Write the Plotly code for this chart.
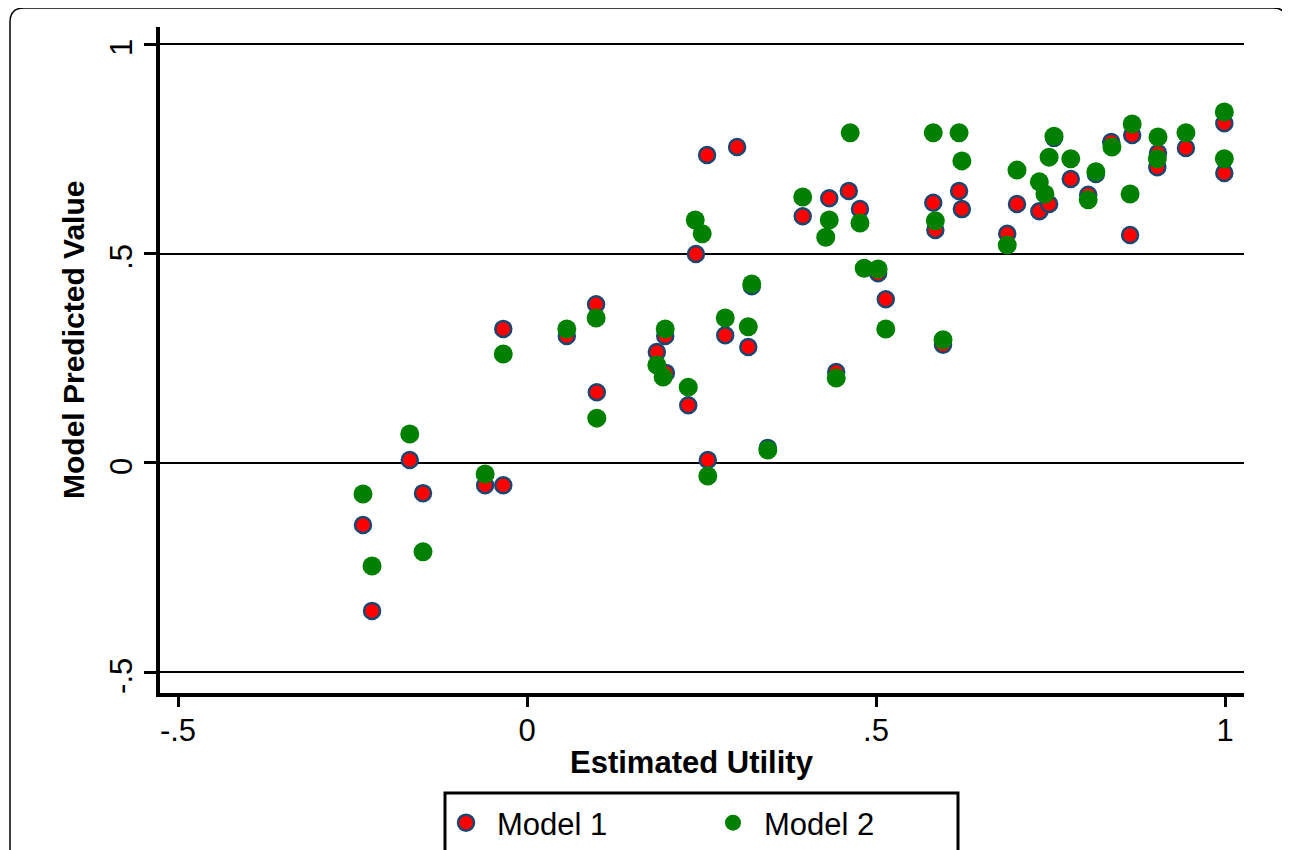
import plotly.graph_objects as go

# Estimated utility (x) and model predicted values (y)
model1_x = [-0.235, -0.222, -0.168, -0.149, -0.060, -0.034, -0.034, 0.057, 0.099, 0.100,
            0.186, 0.198, 0.199, 0.231, 0.242, 0.258, 0.259, 0.284, 0.301, 0.317,
            0.322, 0.345, 0.395, 0.433, 0.443, 0.461, 0.477, 0.503, 0.514, 0.582,
            0.585, 0.596, 0.619, 0.623, 0.688, 0.702, 0.734, 0.748, 0.755, 0.779,
            0.804, 0.815, 0.837, 0.867, 0.864, 0.904, 0.903, 0.944, 0.999, 0.999]
model1_y = [-0.148, -0.353, 0.007, -0.072, -0.053, -0.053, 0.320, 0.303, 0.379, 0.169,
            0.265, 0.303, 0.215, 0.138, 0.499, 0.735, 0.007, 0.305, 0.754, 0.277,
            0.422, 0.036, 0.589, 0.632, 0.217, 0.649, 0.606, 0.453, 0.391, 0.621,
            0.556, 0.282, 0.649, 0.606, 0.547, 0.618, 0.601, 0.618, 0.776, 0.678,
            0.640, 0.690, 0.766, 0.783, 0.544, 0.740, 0.706, 0.752, 0.811, 0.692]

model2_x = [-0.235, -0.222, -0.168, -0.149, -0.060, -0.034, 0.057, 0.099, 0.100, 0.186,
            0.195, 0.198, 0.231, 0.241, 0.251, 0.259, 0.284, 0.317, 0.322, 0.345,
            0.395, 0.428, 0.433, 0.443, 0.463, 0.477, 0.483, 0.503, 0.514, 0.582,
            0.585, 0.596, 0.619, 0.623, 0.688, 0.702, 0.734, 0.742, 0.748, 0.755,
            0.779, 0.804, 0.815, 0.838, 0.867, 0.864, 0.904, 0.903, 0.944, 0.999, 0.999]
model2_y = [-0.074, -0.246, 0.069, -0.212, -0.026, 0.260, 0.320, 0.346, 0.107, 0.234,
            0.205, 0.320, 0.181, 0.580, 0.547, -0.031, 0.346, 0.325, 0.427, 0.031,
            0.635, 0.539, 0.580, 0.203, 0.788, 0.573, 0.465, 0.463, 0.320, 0.788,
            0.578, 0.294, 0.788, 0.721, 0.520, 0.699, 0.671, 0.642, 0.730, 0.780,
            0.726, 0.628, 0.695, 0.754, 0.809, 0.642, 0.778, 0.726, 0.788, 0.838, 0.726]

tick_vals = [-0.5, 0, 0.5, 1]
tick_text = ["-.5", "0", ".5", "1"]
x_title = "Estimated Utility"
y_title = "Model Predicted Value"

OFF = 8  # page body margin
W, H = 1290 - OFF, 850 - OFF
L, T = 160 - OFF, 27 - OFF
R = W - (1244 - OFF)
B = H - (693 - OFF)
PW, PH = W - L - R, H - T - B


def px(x):
    """screen x (reference pixels) -> paper coordinate"""
    return (x - OFF - L) / PW


def py(y):
    """screen y (reference pixels) -> paper coordinate"""
    return (H - B - (y - OFF)) / PH


FONT = "Liberation Sans, Arial, sans-serif"

fig = go.Figure()
fig.add_trace(go.Scatter(
    x=model1_x, y=model1_y, mode="markers", name="Model 1",
    marker=dict(size=16, color="#ff0000", line=dict(color="#1a476f", width=2.5)),
))
fig.add_trace(go.Scatter(
    x=model2_x, y=model2_y, mode="markers", name="Model 2",
    marker=dict(size=19, color="#008000", line=dict(width=0)),
))

# outer rounded frame
r = 14
x0, x1, y0, y1 = 10, 1287, 8, 870
frame = (f"M {px(x0)},{py(y1)} L {px(x0)},{py(y0 + r)} Q {px(x0)},{py(y0)} {px(x0 + r)},{py(y0)} "
         f"L {px(x1 - r)},{py(y0)} Q {px(x1)},{py(y0)} {px(x1)},{py(y0 + r)} L {px(x1)},{py(y1)}")
fig.add_shape(type="path", path=frame, xref="paper", yref="paper",
              line=dict(color="black", width=1.5))
# legend box
fig.add_shape(type="rect", xref="paper", yref="paper",
              x0=px(445), x1=px(958), y0=py(890), y1=py(793),
              line=dict(color="black", width=3), fillcolor="white")

# axis titles
fig.add_annotation(text=f"<b>{x_title}</b>", xref="paper", yref="paper",
                   x=px(692), y=py(762), xanchor="center", yanchor="middle",
                   showarrow=False, font=dict(size=31))
fig.add_annotation(text=f"<b>{y_title}</b>", xref="paper", yref="paper",
                   x=px(73), y=py(340), xanchor="center", yanchor="middle",
                   textangle=-90, showarrow=False, font=dict(size=30))

fig.update_layout(
    width=W, height=H,
    margin=dict(l=L, r=R, t=T, b=B, autoexpand=False),
    paper_bgcolor="white", plot_bgcolor="white",
    font=dict(family=FONT, color="black", size=30),
    showlegend=True,
    legend=dict(orientation="h", x=px(435), xanchor="left", y=py(796), yanchor="top",
                bgcolor="rgba(0,0,0,0)", borderwidth=0, font=dict(size=31),
                itemwidth=52, entrywidth=200, entrywidthmode="pixels"),
)
fig.update_xaxes(
    range=[-0.5258, 1.0272], tickvals=tick_vals, ticktext=tick_text,
    showgrid=False, zeroline=False,
    showline=True, linecolor="black", linewidth=3.5,
    ticks="outside", ticklen=10, tickwidth=3, tickcolor="black",
    tickfont=dict(size=31), ticklabelstandoff=-3,
)
fig.update_yaxes(
    range=[-0.549, 1.0406], tickvals=tick_vals, ticktext=tick_text, tickangle=-90,
    showgrid=True, gridcolor="black", gridwidth=2, zeroline=False,
    showline=True, linecolor="black", linewidth=3.5,
    ticks="outside", ticklen=12, tickwidth=3, tickcolor="black",
    tickfont=dict(size=31), ticklabelshift=8,
)

fig.write_html("out.html")
